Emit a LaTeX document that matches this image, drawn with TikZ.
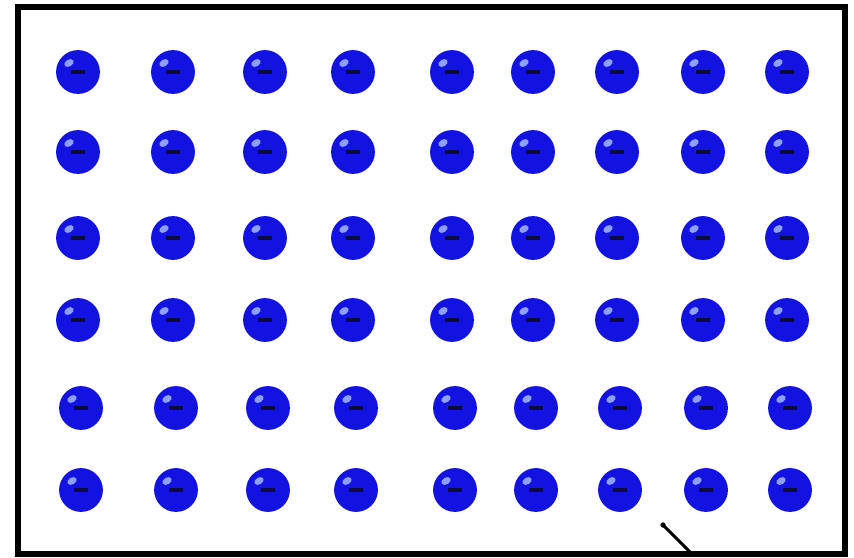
\documentclass[tikz,border=0pt]{standalone}
\usetikzlibrary{calc}
\definecolor{ballblue}{RGB}{18,18,225}
\definecolor{ballhi}{RGB}{140,160,255}
\definecolor{dashcol}{RGB}{10,10,60}
\begin{document}
\begin{tikzpicture}[x=0.02cm,y=-0.02cm,
  frame/.style={draw=black,line width=6*0.567pt},
  ball/.style={circle,fill=ballblue,minimum size=44*0.567pt,inner sep=0pt},
  lead/.style={line width=1.8pt,black}]
\useasboundingbox (0,0) rectangle (854,557);
\fill[white] (0,0) rectangle (854,557);
\draw[frame] (18,7) rectangle (845,554);
\def\cols{78/1,173/2,265/3,353/4,452/5,533/6,617/7,703/8,787/9}
\foreach \y/\r/\dx in {72/1/0,152/2/0,238/3/0,320/4/0,408/5/3,490/6/3}{
  \foreach \x/\c in \cols{
    \node[ball] (b\r\c) at (\x+\dx,\y) {};
    \fill[ballhi] ($(b\r\c)+(-9,-9)$) ellipse [x radius=5*0.567pt,y radius=3.5*0.567pt,rotate=30];
    \fill[dashcol] ($(b\r\c)+(-7,-1.8)$) rectangle ($(b\r\c)+(7,1.8)$);
  }
}
\coordinate (p1) at (663,525);
\coordinate (p2) at (692,554);
\fill (p1) circle (1.5pt);
\draw[lead] (p1) -- (p2);
\end{tikzpicture}
\end{document}
